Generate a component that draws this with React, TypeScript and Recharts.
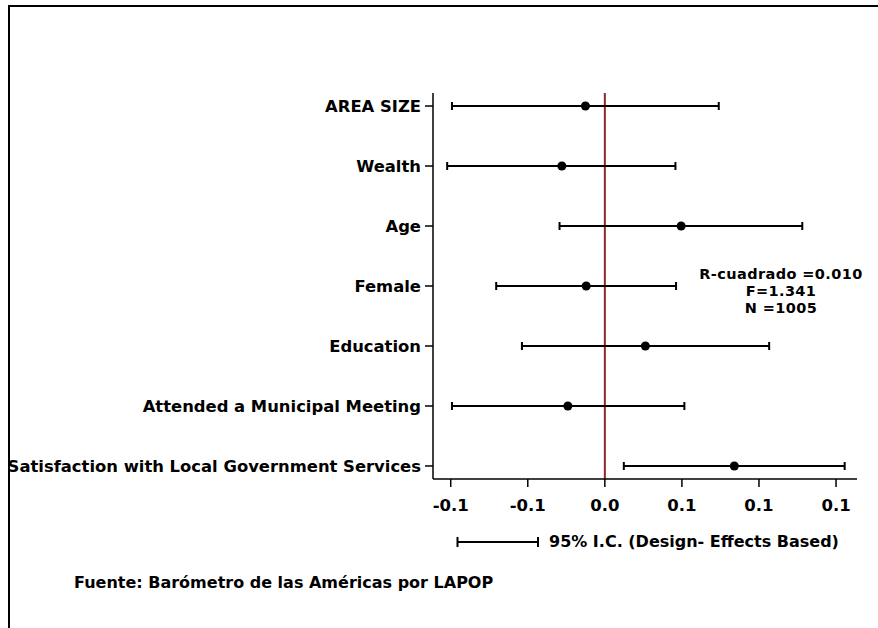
import React from 'react';
import { ScatterChart, Scatter, XAxis, YAxis, ZAxis, ErrorBar, ReferenceLine } from 'recharts';

const labels = [
  'AREA SIZE',
  'Wealth',
  'Age',
  'Female',
  'Education',
  'Attended a Municipal Meeting',
  'Satisfaction with Local Government Services',
];
const coef = [-0.0126, -0.0279, 0.0495, -0.0121, 0.0263, -0.024, 0.084];
const lower = [-0.0992, -0.1023, -0.0294, -0.0705, -0.0538, -0.0992, 0.0123];
const upper = [0.0739, 0.0458, 0.1281, 0.0462, 0.1066, 0.0516, 0.1556];

const xTicks = [-0.1, -0.05, 0, 0.05, 0.1, 0.15];
const xTickLabels = ['-0.1', '-0.1', '0.0', '0.1', '0.1', '0.1'];

const statLines = ['R-cuadrado =0.010', 'F=1.341', 'N =1005'];

const FONT = '"DejaVu Sans", Arial, sans-serif';

const rows = labels.map((name, i) => ({
  name,
  x: coef[i],
  y: i + 1,
  err: [coef[i] - lower[i], upper[i] - coef[i]],
}));

const yTickStyle = { fontSize: 16.4, fontWeight: 700, fill: '#000', fontFamily: FONT };
const xTickStyle = { fontSize: 16.5, fontWeight: 700, fill: '#000', fontFamily: FONT };

export default function App() {
  return (
    <div style={{ position: 'absolute', left: 0, top: 0, width: 878, height: 628, background: '#fff', fontFamily: FONT }}>
      {/* frame */}
      <div style={{ position: 'absolute', left: 8, top: 5, width: 870, height: 623, borderTop: '2px solid #000', borderLeft: '2px solid #000', boxSizing: 'border-box' }} />

      <ScatterChart width={878} height={628} margin={{ top: 93, right: 21, bottom: 119, left: 0 }}>
        <XAxis
          type="number"
          dataKey="x"
          domain={[-0.1115, 0.1636]}
          ticks={xTicks}
          tickFormatter={(v: number) => xTickLabels[xTicks.indexOf(v)] ?? ''}
          allowDataOverflow
          height={30}
          tickSize={8}
          tickMargin={12}
          stroke="#000"
          strokeWidth={1.5}
          tick={xTickStyle}
        />
        <YAxis
          type="number"
          dataKey="y"
          domain={[0.783, 7.217]}
          ticks={[1, 2, 3, 4, 5, 6, 7]}
          reversed
          tickFormatter={(v: number) => labels[v - 1]}
          width={433}
          tickSize={8}
          tickMargin={4}
          stroke="#000"
          strokeWidth={1.5}
          tick={yTickStyle}
        />
        <ZAxis range={[50, 50]} />
        <ReferenceLine x={0} stroke="#8b2a2a" strokeWidth={2} ifOverflow="extendDomain" />
        <Scatter data={rows} fill="#000" isAnimationActive={false}>
          <ErrorBar dataKey="err" direction="x" width={4} stroke="#000" strokeWidth={2} isAnimationActive={false} />
        </Scatter>
      </ScatterChart>

      {/* stats */}
      <div style={{ position: 'absolute', left: 681, top: 265.5, width: 200, textAlign: 'center', fontSize: 14.5, fontWeight: 700, lineHeight: '17px', letterSpacing: 0.4, color: '#000' }}>
        {statLines.map(s => <div key={s}>{s}</div>)}
      </div>

      {/* legend */}
      <svg style={{ position: 'absolute', left: 456, top: 536 }} width={84} height={12}>
        <line x1={1.5} y1={6} x2={82} y2={6} stroke="#000" strokeWidth={2} />
        <line x1={1.5} y1={1} x2={1.5} y2={11} stroke="#000" strokeWidth={2} />
        <line x1={82} y1={1} x2={82} y2={11} stroke="#000" strokeWidth={2} />
      </svg>
      <div style={{ position: 'absolute', left: 549, top: 532, fontSize: 16, fontWeight: 700, lineHeight: '20px', color: '#000', whiteSpace: 'nowrap' }}>
        95% I.C. (Design- Effects Based)
      </div>

      <div style={{ position: 'absolute', left: 74, top: 573, fontSize: 16, fontWeight: 700, lineHeight: '20px', color: '#000', whiteSpace: 'nowrap' }}>
        Fuente: Barómetro de las Américas por LAPOP
      </div>
    </div>
  );
}
